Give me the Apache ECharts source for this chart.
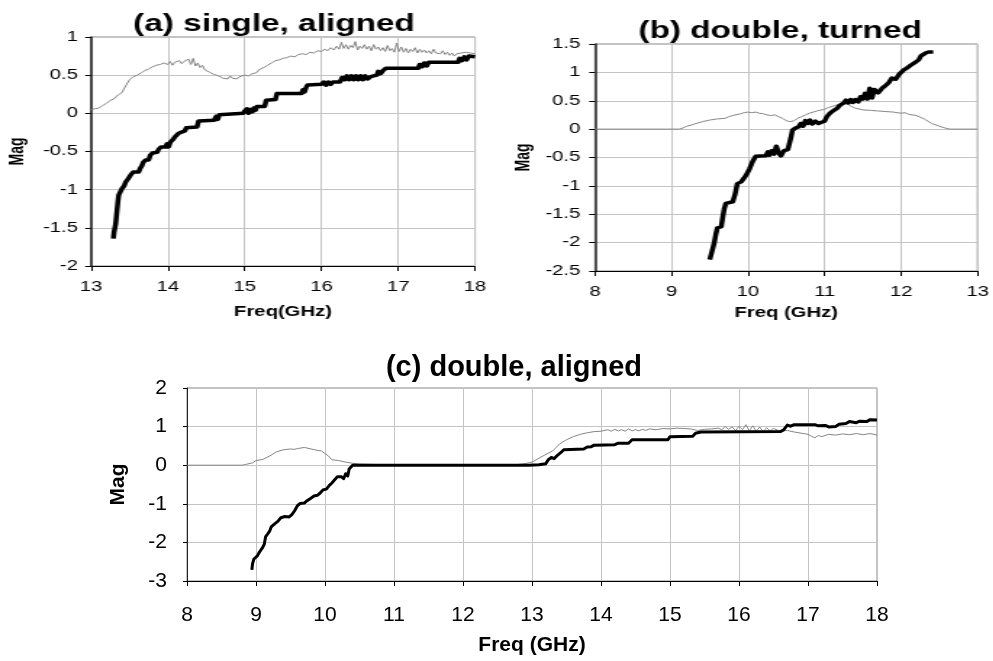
<!DOCTYPE html>
<html>
<head>
<meta charset="utf-8">
<script src="https://cdn.jsdelivr.net/npm/echarts@6/dist/echarts.min.js"></script>
<style>
html,body{margin:0;padding:0;background:#fff;width:993px;height:661px;overflow:hidden;}
#topChart{position:absolute;left:0;top:0;width:685px;height:325px;transform:scaleX(1.45);transform-origin:0 0;}
#bottomChart{position:absolute;left:0;top:325px;width:993px;height:336px;}
</style>
</head>
<body>
<div id="topChart"></div>
<div id="bottomChart"></div>
<script>
// ---- Titles / axis labels ----
const titleA = '(a) single, aligned';
const titleB = '(b) double, turned';
const titleC = '(c) double, aligned';
const xNameA = 'Freq(GHz)';
const xNameB = 'Freq (GHz)';
const xNameC = 'Freq (GHz)';
const yName = 'Mag';

// ---- Panel (a): single, aligned  [freq GHz, mag] ----
const grayA = [[13.00,0.05],[13.05,0.06],[13.10,0.07],[13.15,0.10],[13.20,0.13],[13.25,0.17],[13.30,0.19],[13.35,0.24],[13.40,0.27],[13.45,0.36],[13.50,0.44],[13.55,0.48],[13.60,0.50],[13.65,0.53],[13.70,0.56],[13.75,0.58],[13.80,0.61],[13.85,0.63],[13.90,0.64],[13.95,0.66],[14.00,0.64],[14.03,0.68],[14.06,0.63],[14.09,0.67],[14.12,0.66],[14.15,0.69],[14.18,0.65],[14.21,0.68],[14.24,0.66],[14.27,0.71],[14.30,0.64],[14.33,0.72],[14.36,0.62],[14.39,0.66],[14.42,0.60],[14.45,0.63],[14.48,0.57],[14.51,0.59],[14.54,0.54],[14.57,0.56],[14.60,0.51],[14.63,0.53],[14.66,0.49],[14.69,0.51],[14.72,0.46],[14.75,0.48],[14.78,0.45],[14.81,0.49],[14.84,0.46],[14.87,0.47],[14.90,0.45],[14.93,0.48],[14.96,0.47],[15.00,0.50],[15.05,0.49],[15.10,0.52],[15.15,0.53],[15.20,0.58],[15.25,0.60],[15.30,0.63],[15.35,0.66],[15.40,0.69],[15.45,0.70],[15.50,0.72],[15.55,0.73],[15.60,0.75],[15.65,0.74],[15.70,0.77],[15.75,0.78],[15.80,0.77],[15.85,0.80],[15.90,0.79],[15.95,0.82],[16.00,0.81],[16.04,0.84],[16.08,0.82],[16.12,0.86],[16.16,0.83],[16.20,0.88],[16.23,0.84],[16.26,0.93],[16.29,0.85],[16.32,0.90],[16.35,0.84],[16.38,0.89],[16.41,0.86],[16.44,0.94],[16.47,0.83],[16.50,0.88],[16.53,0.85],[16.56,0.90],[16.59,0.84],[16.62,0.88],[16.65,0.82],[16.68,0.90],[16.71,0.84],[16.74,0.87],[16.77,0.82],[16.80,0.86],[16.83,0.81],[16.86,0.89],[16.89,0.82],[16.92,0.85],[16.95,0.80],[16.98,0.92],[17.01,0.81],[17.04,0.87],[17.07,0.80],[17.10,0.85],[17.13,0.79],[17.16,0.84],[17.19,0.81],[17.22,0.86],[17.25,0.79],[17.28,0.84],[17.31,0.80],[17.34,0.83],[17.37,0.79],[17.40,0.82],[17.43,0.78],[17.46,0.84],[17.49,0.79],[17.52,0.81],[17.55,0.78],[17.58,0.82],[17.61,0.77],[17.64,0.80],[17.67,0.76],[17.70,0.79],[17.73,0.75],[17.76,0.78],[17.79,0.76],[17.82,0.79],[17.85,0.77],[17.88,0.80],[17.91,0.78],[17.94,0.79],[17.97,0.77],[18.00,0.78]];
const blackA = [[13.29,-1.64],[13.30,-1.55],[13.32,-1.45],[13.33,-1.35],[13.34,-1.25],[13.35,-1.15],[13.36,-1.07],[13.38,-1.03],[13.40,-0.99],[13.43,-0.95],[13.45,-0.90],[13.48,-0.86],[13.50,-0.84],[13.52,-0.80],[13.55,-0.77],[13.62,-0.77],[13.64,-0.72],[13.66,-0.69],[13.68,-0.64],[13.71,-0.61],[13.75,-0.61],[13.77,-0.55],[13.80,-0.52],[13.86,-0.51],[13.88,-0.47],[13.91,-0.44],[13.97,-0.44],[13.99,-0.40],[14.01,-0.44],[14.03,-0.38],[14.05,-0.40],[14.07,-0.34],[14.09,-0.31],[14.12,-0.29],[14.14,-0.26],[14.17,-0.24],[14.22,-0.23],[14.24,-0.19],[14.38,-0.18],[14.40,-0.10],[14.60,-0.09],[14.63,-0.04],[14.65,-0.08],[14.67,-0.02],[14.70,0.00],[14.98,0.00],[15.00,0.03],[15.03,0.06],[15.05,0.00],[15.08,0.05],[15.10,0.02],[15.12,0.07],[15.14,0.04],[15.16,0.09],[15.26,0.09],[15.28,0.17],[15.40,0.18],[15.42,0.26],[15.74,0.26],[15.76,0.31],[15.78,0.28],[15.80,0.34],[15.82,0.37],[16.00,0.38],[16.03,0.41],[16.06,0.37],[16.09,0.41],[16.12,0.38],[16.15,0.41],[16.24,0.41],[16.27,0.47],[16.30,0.44],[16.33,0.49],[16.36,0.44],[16.39,0.49],[16.42,0.44],[16.45,0.49],[16.48,0.44],[16.51,0.49],[16.54,0.44],[16.57,0.49],[16.60,0.45],[16.64,0.48],[16.72,0.50],[16.74,0.55],[16.77,0.52],[16.80,0.56],[16.84,0.59],[17.26,0.59],[17.28,0.64],[17.31,0.61],[17.34,0.66],[17.37,0.62],[17.40,0.67],[17.43,0.66],[17.78,0.67],[17.80,0.72],[17.83,0.69],[17.86,0.74],[17.89,0.70],[17.92,0.75],[18.00,0.74]];

// ---- Panel (b): double, turned ----
const grayB = [[8.00,0],[9.10,0],[9.15,0.02],[9.20,0.05],[9.30,0.09],[9.40,0.13],[9.50,0.16],[9.60,0.18],[9.70,0.19],[9.75,0.22],[9.80,0.24],[9.90,0.27],[9.95,0.29],[10.00,0.30],[10.05,0.29],[10.10,0.30],[10.15,0.28],[10.20,0.27],[10.25,0.25],[10.30,0.24],[10.35,0.25],[10.40,0.22],[10.45,0.19],[10.50,0.15],[10.55,0.13],[10.60,0.15],[10.65,0.19],[10.70,0.22],[10.75,0.25],[10.80,0.28],[10.90,0.32],[11.00,0.35],[11.05,0.38],[11.10,0.40],[11.15,0.42],[11.20,0.44],[11.25,0.45],[11.30,0.44],[11.35,0.40],[11.40,0.37],[11.50,0.34],[11.60,0.33],[11.70,0.32],[11.80,0.31],[11.90,0.30],[12.00,0.28],[12.05,0.29],[12.10,0.26],[12.20,0.24],[12.30,0.18],[12.40,0.10],[12.50,0.05],[12.60,0.01],[12.65,0],[13.00,0]];
const blackB = [[9.50,-2.30],[9.53,-2.15],[9.56,-2.00],[9.58,-1.85],[9.60,-1.74],[9.65,-1.72],[9.67,-1.55],[9.69,-1.40],[9.71,-1.31],[9.80,-1.28],[9.83,-1.15],[9.86,-0.96],[9.91,-0.93],[9.95,-0.86],[9.98,-0.80],[10.02,-0.70],[10.06,-0.57],[10.10,-0.48],[10.23,-0.47],[10.26,-0.40],[10.28,-0.46],[10.31,-0.38],[10.34,-0.44],[10.37,-0.30],[10.40,-0.42],[10.43,-0.47],[10.47,-0.38],[10.52,-0.36],[10.56,-0.15],[10.58,-0.02],[10.62,0.02],[10.66,0.04],[10.69,0.10],[10.72,0.05],[10.75,0.15],[10.78,0.10],[10.81,0.16],[10.84,0.09],[10.88,0.14],[10.92,0.10],[10.96,0.12],[11.00,0.14],[11.03,0.22],[11.07,0.28],[11.12,0.33],[11.16,0.36],[11.20,0.42],[11.25,0.46],[11.28,0.51],[11.31,0.46],[11.34,0.52],[11.37,0.47],[11.40,0.52],[11.44,0.48],[11.47,0.57],[11.50,0.53],[11.53,0.63],[11.56,0.53],[11.59,0.72],[11.62,0.55],[11.65,0.70],[11.70,0.64],[11.75,0.72],[11.79,0.76],[11.84,0.82],[11.88,0.90],[11.93,0.88],[11.97,0.96],[12.00,0.98],[12.04,1.05],[12.08,1.08],[12.12,1.12],[12.15,1.10],[12.19,1.18],[12.23,1.22],[12.26,1.29],[12.29,1.26],[12.32,1.34],[12.36,1.36],[12.42,1.36]];

// ---- Panel (c): double, aligned ----
const grayC = [[8.00,0],[8.80,0],[8.85,0.02],[8.95,0.06],[9.00,0.12],[9.10,0.15],[9.20,0.24],[9.30,0.35],[9.40,0.40],[9.50,0.42],[9.55,0.41],[9.60,0.43],[9.70,0.46],[9.80,0.42],[9.85,0.40],[9.90,0.38],[9.95,0.37],[10.00,0.30],[10.05,0.24],[10.10,0.14],[10.20,0.12],[10.30,0.08],[10.40,0.05],[10.50,0.03],[10.70,0.02],[10.90,0.01],[11.00,0],[12.70,0],[12.80,0.02],[12.90,0.04],[13.00,0.08],[13.10,0.18],[13.20,0.28],[13.30,0.37],[13.40,0.55],[13.50,0.66],[13.60,0.74],[13.70,0.80],[13.80,0.84],[13.90,0.87],[14.00,0.88],[14.10,0.92],[14.15,0.88],[14.20,0.93],[14.25,0.89],[14.30,0.92],[14.35,0.88],[14.40,0.94],[14.45,0.89],[14.50,0.92],[14.55,0.89],[14.60,0.93],[14.65,0.90],[14.70,0.94],[14.80,0.92],[14.90,0.95],[15.00,0.94],[15.10,0.96],[15.20,0.95],[15.30,0.94],[15.40,0.90],[15.50,0.93],[15.60,0.94],[15.70,0.96],[15.75,0.92],[15.80,1.00],[15.85,0.93],[15.90,0.99],[15.95,0.90],[16.00,1.01],[16.05,0.92],[16.10,1.05],[16.15,0.89],[16.20,1.02],[16.25,0.88],[16.30,0.99],[16.35,0.87],[16.40,0.97],[16.45,0.89],[16.50,0.95],[16.60,0.88],[16.70,0.90],[16.80,0.86],[16.90,0.83],[17.00,0.80],[17.05,0.75],[17.10,0.71],[17.15,0.77],[17.20,0.74],[17.30,0.80],[17.40,0.78],[17.50,0.81],[17.60,0.79],[17.70,0.82],[17.80,0.79],[17.90,0.82],[18.00,0.78]];
const blackC = [[8.94,-2.71],[8.95,-2.55],[8.97,-2.43],[9.02,-2.35],[9.05,-2.25],[9.09,-2.15],[9.12,-2.05],[9.14,-1.85],[9.17,-1.78],[9.20,-1.70],[9.22,-1.60],[9.27,-1.52],[9.32,-1.45],[9.36,-1.36],[9.42,-1.33],[9.48,-1.34],[9.52,-1.28],[9.56,-1.18],[9.60,-1.05],[9.64,-0.99],[9.70,-0.98],[9.74,-0.92],[9.79,-0.86],[9.84,-0.80],[9.89,-0.78],[9.93,-0.72],[9.97,-0.64],[10.02,-0.62],[10.06,-0.53],[10.10,-0.46],[10.14,-0.38],[10.18,-0.30],[10.20,-0.25],[10.24,-0.30],[10.27,-0.35],[10.30,-0.22],[10.33,-0.28],[10.35,-0.10],[10.37,-0.05],[10.40,0.00],[12.95,0.00],[13.10,0.01],[13.20,0.04],[13.24,0.15],[13.28,0.20],[13.32,0.17],[13.36,0.24],[13.42,0.33],[13.46,0.40],[13.75,0.42],[13.80,0.47],[13.86,0.48],[13.90,0.52],[14.20,0.53],[14.25,0.57],[14.40,0.57],[14.45,0.66],[14.97,0.66],[15.00,0.74],[15.33,0.75],[15.37,0.83],[15.45,0.86],[16.60,0.87],[16.65,0.92],[16.70,1.04],[16.75,1.01],[16.80,1.05],[17.10,1.05],[17.15,1.02],[17.25,1.03],[17.30,0.99],[17.40,1.00],[17.45,1.06],[17.55,1.08],[17.60,1.13],[17.70,1.10],[17.75,1.14],[17.85,1.13],[17.90,1.18],[18.00,1.17]];

// ---- Axis ranges ----
const xRangeA = [13, 18], yRangeA = [-2, 1];
const xRangeB = [8, 13],  yRangeB = [-2.5, 1.5];
const xRangeC = [8, 18],  yRangeC = [-3, 2];

const FONT = '"Liberation Sans", Arial, sans-serif';
const GRAY = '#858585';

function xAxisDef(idx, range, name, fs, nfs, margin, gap) {
  return {
    type: 'value', gridIndex: idx, min: range[0], max: range[1], interval: 1,
    name: name, nameLocation: 'middle', nameGap: gap,
    nameTextStyle: {fontFamily: FONT, fontWeight: 'bold', fontSize: nfs, color: '#000'},
    axisLine: {onZero: false, lineStyle: {color: '#000', width: 1}},
    axisTick: {show: true, length: 5, lineStyle: {color: '#000'}},
    axisLabel: {fontFamily: FONT, fontSize: fs, color: '#000', margin: margin},
    splitLine: {show: true, lineStyle: {color: '#c4c4c4', width: 1}}
  };
}
function yAxisDef(idx, range, interval, fs, nfs, margin, gap, lw) {
  return {
    type: 'value', gridIndex: idx, min: range[0], max: range[1], interval: interval,
    name: yName, nameLocation: 'middle', nameGap: gap, nameRotate: 90,
    nameTextStyle: {fontFamily: FONT, fontWeight: 'bold', fontSize: nfs, color: '#000'},
    axisLine: {show: true, onZero: false, lineStyle: {color: '#222', width: lw}},
    axisTick: {show: true, length: 4, lineStyle: {color: '#000'}},
    axisLabel: {fontFamily: FONT, fontSize: fs, color: '#000', margin: margin},
    splitLine: {show: true, lineStyle: {color: '#c4c4c4', width: 1}}
  };
}
function grayS(idx, d) {
  return {type: 'line', xAxisIndex: idx, yAxisIndex: idx, data: d, showSymbol: false,
    lineStyle: {color: GRAY, width: 1}, z: 2, silent: true};
}
function blackS(idx, d, w) {
  return {type: 'line', xAxisIndex: idx, yAxisIndex: idx, data: d, showSymbol: false,
    lineStyle: {color: '#000', width: w, join: 'round'}, z: 3, silent: true};
}

const chartTop = echarts.init(document.getElementById('topChart'), null, {renderer: 'canvas'});
chartTop.setOption({
  animation: false,
  backgroundColor: 'transparent',
  title: [
    {text: titleA, left: 184, top: 8, textAlign: 'center',
     textStyle: {fontFamily: FONT, fontWeight: 'bold', fontSize: 23, color: '#000'}},
    {text: titleB, left: 533, top: 15, textAlign: 'center',
     textStyle: {fontFamily: FONT, fontWeight: 'bold', fontSize: 23, color: '#000'}}
  ],
  grid: [
    {left: 62.8, top: 37, width: 264.8, height: 229, show: true, borderColor: '#888', borderWidth: 1},
    {left: 410.3, top: 44, width: 265.6, height: 227, show: true, borderColor: '#888', borderWidth: 1}
  ],
  xAxis: [
    xAxisDef(0, xRangeA, xNameA, 14, 14, 14, 39),
    xAxisDef(1, xRangeB, xNameB, 14, 14, 14, 35)
  ],
  yAxis: [
    yAxisDef(0, yRangeA, 0.5, 14, 14, 9, 44, 1.5),
    yAxisDef(1, yRangeB, 0.5, 14, 14, 10, 42, 1.5)
  ],
  series: [grayS(0, grayA), blackS(0, blackA, 3.5), grayS(1, grayB), blackS(1, blackB, 3.5)]
});

const chartBottom = echarts.init(document.getElementById('bottomChart'), null, {renderer: 'canvas'});
chartBottom.setOption({
  animation: false,
  backgroundColor: 'transparent',
  title: [
    {text: titleC, left: 509, top: 23, textAlign: 'center',
     textStyle: {fontFamily: FONT, fontWeight: 'bold', fontSize: 29, color: '#000'}}
  ],
  grid: [{left: 187, top: 63, width: 690, height: 194, show: true, borderColor: '#888', borderWidth: 1}],
  xAxis: [xAxisDef(0, xRangeC, xNameC, 21, 21, 24, 54)],
  yAxis: [yAxisDef(0, yRangeC, 1, 21, 21, 20, 58, 1)],
  series: [grayS(0, grayC), blackS(0, blackC, 3)]
});
</script>
</body>
</html>
